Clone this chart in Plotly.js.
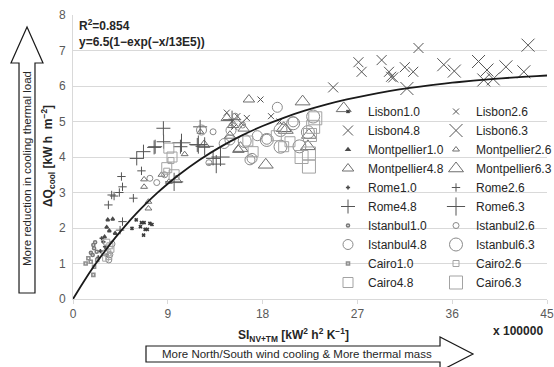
<!DOCTYPE html>
<html><head><meta charset="utf-8">
<script src="https://cdn.plot.ly/plotly-3.0.1.min.js"></script>
<style>html,body{margin:0;padding:0;background:#fff}#chart{width:554px;height:367px}</style>
</head><body><div id="chart"></div>
<script>
// ---------- data (x in units of 100000 kW2 h2 K-1, y in kW h m-2) ----------
const cities = ['Lisbon', 'Montpellier', 'Rome', 'Istanbul', 'Cairo'];
const levels = ['1.0', '2.6', '4.8', '6.3'];

const lisbon10X = [5.6, 6.0, 6.4, 6.5, 6.75, 6.85, 7.05, 7.3, 6.7, 7.5];
const lisbon10Y = [1.99, 2.23, 2.04, 2.15, 2.15, 1.96, 1.96, 2.13, 1.8, 2.1];
const lisbon26X = [14.6, 15.1, 15.6, 16.0, 16.5, 17.8, 18.8, 15.3, 19.6];
const lisbon26Y = [5.25, 5.0, 5.15, 4.95, 5.1, 5.62, 5.15, 4.85, 5.0];
const lisbon48X = [24.7, 27.1, 27.4, 29.3, 30.0, 30.2, 30.4, 31.5, 32.3, 32.8];
const lisbon48Y = [5.96, 6.67, 6.4, 6.73, 6.4, 6.26, 6.24, 6.53, 6.4, 7.07];
const lisbon63X = [31.7, 35.2, 36.2, 38.5, 39.3, 39.0, 39.9, 41.1, 42.8, 43.2];
const lisbon63Y = [5.93, 6.6, 6.42, 6.69, 6.45, 6.17, 6.2, 6.54, 6.4, 7.15];

const montpellier10X = [3.2, 3.3, 3.45, 3.77, 4.0, 3.0];
const montpellier10Y = [2.02, 2.23, 1.92, 2.25, 1.85, 1.75];
const montpellier26X = [6.75, 6.75, 7.16, 7.16, 8.4, 9.1, 12.1, 10.6];
const montpellier26Y = [3.37, 3.16, 2.55, 2.74, 3.5, 3.3, 4.71, 4.08];
const montpellier48X = [9.8, 12.45, 14.6, 15.2, 16.2, 16.7, 15.7, 14.9];
const montpellier48Y = [3.35, 4.34, 5.1, 4.9, 4.8, 5.62, 4.2, 4.6];
const montpellier63X = [15.9, 18.3, 20.0, 20.2, 21.8, 22.4, 25.7, 22.3];
const montpellier63Y = [4.25, 3.78, 4.81, 4.76, 5.56, 4.62, 5.37, 4.3];

const rome10X = [2.72, 2.88, 3.04, 2.4, 3.2, 2.6];
const rome10Y = [1.71, 1.61, 1.47, 1.17, 1.24, 1.35];
const rome26X = [3.36, 3.67, 4.4, 4.6, 4.7, 5.73, 6.5, 4.7, 4.47, 3.9];
const rome26Y = [2.65, 2.93, 3.0, 3.45, 3.16, 2.84, 3.61, 2.18, 1.94, 2.9];
const rome48X = [6.05, 6.69, 7.8, 8.58, 8.6, 10.2, 11.8, 12.07, 13.3, 7.7];
const rome48Y = [3.96, 4.15, 4.29, 4.81, 4.43, 4.29, 4.34, 4.85, 3.96, 4.27];
const rome63X = [10.3, 12.5, 13.6, 14.0, 11.9, 15.1, 9.6];
const rome63Y = [4.4, 4.3, 3.8, 4.0, 4.35, 5.05, 3.3];

const istanbul10X = [1.93, 2.0, 1.87, 2.25, 2.1, 1.7];
const istanbul10Y = [1.52, 1.43, 1.24, 1.33, 1.6, 1.3];
const istanbul26X = [3.0, 3.4, 3.7, 3.5, 7.3, 7.95, 8.7, 12.9, 13.3, 15.4, 16.1];
const istanbul26Y = [1.3, 1.1, 1.55, 1.25, 3.4, 3.28, 3.5, 3.84, 4.71, 5.15, 4.9];
const istanbul48X = [12.2, 14.35, 14.9, 16.8, 17.0, 18.4, 19.4, 20.9, 17.5, 15.0];
const istanbul48Y = [4.76, 4.38, 4.48, 3.92, 3.96, 4.5, 5.4, 4.99, 4.6, 4.75];
const istanbul63X = [18.4, 19.7, 19.7, 20.9, 22.8, 22.3, 16.3, 21.5];
const istanbul63Y = [4.48, 4.29, 4.76, 4.95, 5.14, 4.7, 4.45, 4.3];

const cairo10X = [1.46, 1.68, 2.0, 1.93, 1.2, 2.3];
const cairo10Y = [1.15, 1.05, 0.91, 0.68, 1.0, 1.1];
const cairo26X = [3.1, 3.3, 3.5, 3.4, 3.6, 3.2, 8.9, 9.3];
const cairo26Y = [1.15, 1.3, 1.5, 1.2, 1.4, 1.6, 3.6, 3.9];
const cairo48X = [8.9, 9.4, 9.1, 9.6, 17.1, 16.6, 19.3, 20.6, 20.0];
const cairo48Y = [3.7, 4.0, 4.25, 3.5, 4.15, 4.45, 4.6, 4.43, 4.29];
const cairo63X = [22.4, 22.8, 23.0, 22.4, 22.5, 21.7];
const cairo63Y = [4.1, 4.85, 5.09, 3.73, 4.62, 4.0];

// fitted trend shown on the chart: y = 6.5(1-exp(-x/13E5))
const fitA = 6.5;
const fitTau = 13;
const fitX = [0, 1, 2, 3, 4, 5, 6, 7, 8, 9, 10, 12, 14, 16, 18, 20, 22, 24, 26, 28, 30, 32, 34, 36, 38, 40, 42, 44, 45];

const xTicks = [0, 9, 18, 27, 36, 45];
const yTicks = [0, 1, 2, 3, 4, 5, 6, 7, 8];

const series = {
  Lisbon: [[lisbon10X, lisbon10Y], [lisbon26X, lisbon26Y], [lisbon48X, lisbon48Y], [lisbon63X, lisbon63Y]],
  Montpellier: [[montpellier10X, montpellier10Y], [montpellier26X, montpellier26Y], [montpellier48X, montpellier48Y], [montpellier63X, montpellier63Y]],
  Rome: [[rome10X, rome10Y], [rome26X, rome26Y], [rome48X, rome48Y], [rome63X, rome63Y]],
  Istanbul: [[istanbul10X, istanbul10Y], [istanbul26X, istanbul26Y], [istanbul48X, istanbul48Y], [istanbul63X, istanbul63Y]],
  Cairo: [[cairo10X, cairo10Y], [cairo26X, cairo26Y], [cairo48X, cairo48Y], [cairo63X, cairo63Y]]
};

// ---------- styles ----------
const symbolOf = {Lisbon: 'x-thin-open', Montpellier: 'triangle-up-open', Rome: 'cross-thin-open', Istanbul: 'circle-open', Cairo: 'square-open'};
const colorOf = {Lisbon: '#555555', Montpellier: '#6e6e6e', Rome: '#555555', Istanbul: '#8a8a8a', Cairo: '#a3a3a3'};
const dotColorOf = {Lisbon: '#3a3a3a', Montpellier: '#4a4a4a', Rome: '#4a4a4a', Istanbul: '#7a7a7a', Cairo: '#8f8f8f'};
const sizeOf = [3, 6, 10, 13];

const traces = [];
cities.forEach(c => {
  levels.forEach((lv, i) => {
    const d = series[c][i];
    const col = i === 0 ? dotColorOf[c] : colorOf[c];
    traces.push({
      type: 'scatter', mode: 'markers', name: c + lv,
      x: d[0], y: d[1],
      legend: (i === 0 || i === 2) ? 'legend' : 'legend2',
      marker: {symbol: symbolOf[c], size: sizeOf[i], color: col,
               line: {color: col, width: i === 0 ? 1.6 : 1.0}},
      hoverinfo: 'x+y+name'
    });
  });
});
traces.push({
  type: 'scatter', mode: 'lines', x: fitX,
  y: fitX.map(v => fitA * (1 - Math.exp(-v / fitTau))),
  line: {color: '#1a1a1a', width: 1.8, shape: 'spline'},
  showlegend: false, hoverinfo: 'skip'
});

// ---------- layout helpers (pixel -> paper) ----------
const W = 554, H = 367, M = {l: 73, r: 7, t: 15, b: 68, autoexpand: false};
const PW = W - M.l - M.r, PH = H - M.t - M.b;
const px = X => (X - M.l) / PW;
const py = Y => (H - M.b - Y) / PH;
const poly = pts => 'M' + pts.map(p => px(p[0]).toFixed(4) + ',' + py(p[1]).toFixed(4)).join(' L') + ' Z';

const upArrow = [[19, 293], [35, 293], [35, 63], [43, 63], [27, 27], [11, 63], [19, 63]];
const rightArrow = [[146, 346], [440, 346], [440, 337], [473, 354], [440, 371], [440, 362], [146, 362]];

const FONT = 'Arial, "Liberation Sans", sans-serif';
const ann = (X, Y, text, o) => Object.assign({xref: 'paper', yref: 'paper', x: px(X), y: py(Y), text: text,
  showarrow: false, font: {family: FONT, size: 12, color: '#262626'}, xanchor: 'center', yanchor: 'middle'}, o || {});

const legendStyle = {yanchor: 'bottom', bgcolor: 'rgba(0,0,0,0)', borderwidth: 0,
  font: {family: FONT, size: 12, color: '#262626'}, itemclick: false, itemdoubleclick: false, tracegroupgap: 0};

const layout = {
  width: W, height: H,
  margin: M,
  paper_bgcolor: '#ffffff', plot_bgcolor: '#ffffff',
  font: {family: FONT, size: 12, color: '#595959'},
  showlegend: true,
  xaxis: {range: [0, 45], tickvals: xTicks, ticktext: xTicks.map(String), showgrid: false, zeroline: false,
          showline: true, linecolor: '#d9d9d9', linewidth: 1, ticks: 'outside', ticklen: 4, tickcolor: '#d9d9d9',
          tickfont: {size: 12, color: '#595959'}, fixedrange: true},
  yaxis: {range: [0, 8], tickvals: yTicks, ticktext: yTicks.map(String), showgrid: true, gridcolor: '#d9d9d9', gridwidth: 1,
          zeroline: false, showline: true, linecolor: '#d9d9d9', linewidth: 1, ticks: '', ticklabelstandoff: 4,
          tickfont: {size: 12, color: '#595959'}, fixedrange: true},
  legend: Object.assign({x: px(328), xanchor: 'left', y: py(297)}, legendStyle),
  legend2: Object.assign({x: px(436), xanchor: 'left', y: py(297)}, legendStyle),
  shapes: [
    {type: 'path', xref: 'paper', yref: 'paper', path: poly(upArrow), fillcolor: '#ffffff', line: {color: '#1a1a1a', width: 1.2}, layer: 'above'},
    {type: 'path', xref: 'paper', yref: 'paper', path: poly(rightArrow), fillcolor: '#ffffff', line: {color: '#1a1a1a', width: 1.2}, layer: 'above'}
  ],
  annotations: [
    ann(77, 25, '<b>R<sup>2</sup>=0.854</b>', {xanchor: 'left'}),
    ann(77, 42, '<b>y=6.5(1\u2212exp(\u2212x/13E5))</b>', {xanchor: 'left'}),
    ann(48, 156, '<b>\u0394Q<sub>cool</sub> [kW h  m<sup>\u22122</sup>]</b>', {textangle: -90}),
    ann(293, 335, '<b>SI<sub>NV+TM</sub> [kW<sup>2</sup> h<sup>2</sup> K<sup>\u22121</sup>]</b>'),
    ann(518, 331, '<b>x 100000</b>'),
    ann(27, 169, 'More reduction in cooling thermal load', {textangle: -90, font: {family: FONT, size: 11.5, color: '#262626'}}),
    ann(297, 354, 'More North/South wind cooling &amp; More thermal mass', {font: {family: FONT, size: 11.5, color: '#262626'}})
  ]
};

Plotly.newPlot('chart', traces, layout, {displayModeBar: false, staticPlot: true});
</script></body></html>
